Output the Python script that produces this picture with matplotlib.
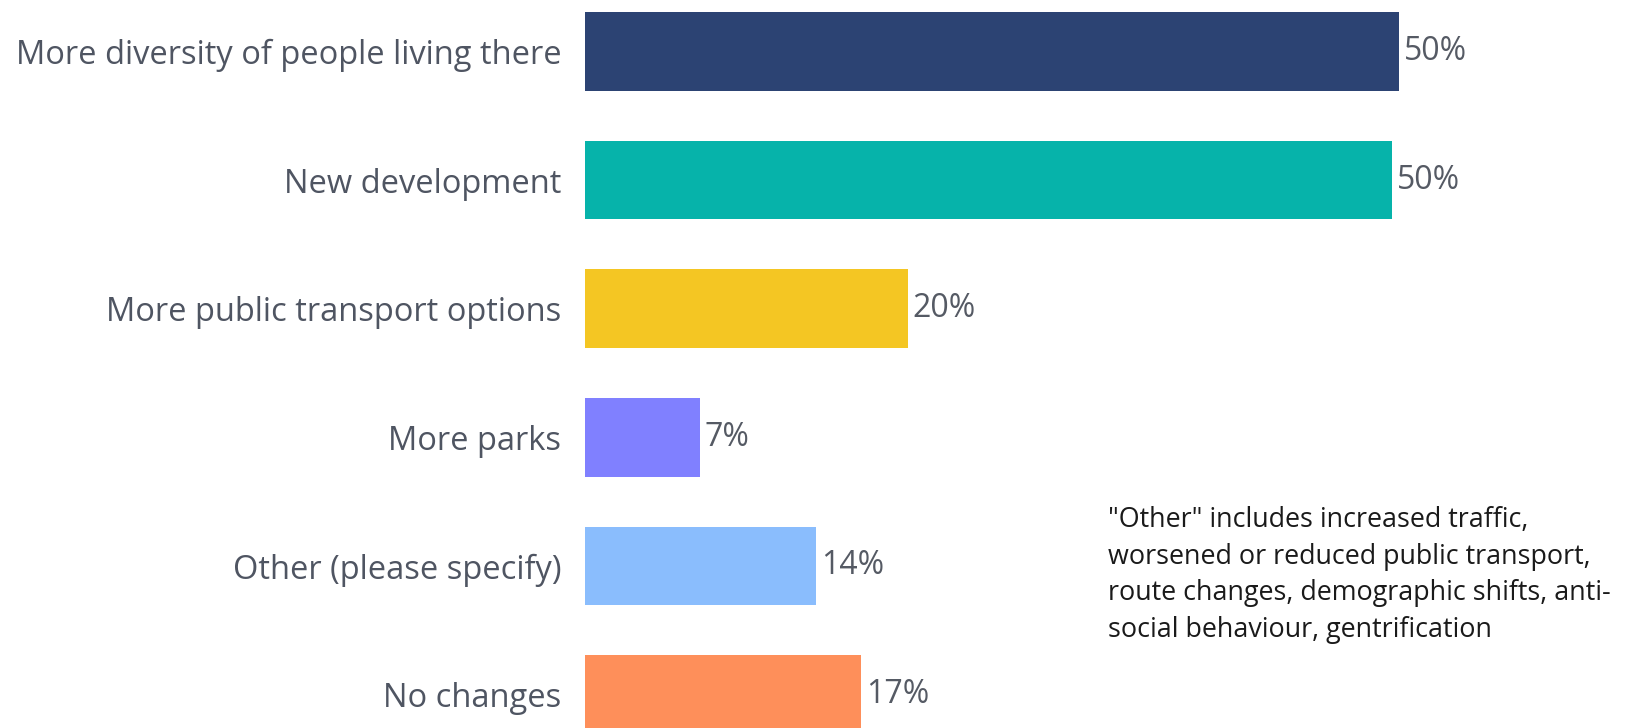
import numpy as np
from matplotlib import pyplot as plt

# categories and values
categories = [
    'More diversity of people living there',
    'New development',
    'More public transport options',
    'More parks',
    'Other (please specify)',
    'No changes',
]
values = [50.4, 50.0, 20.0, 7.1, 14.3, 17.1]
value_labels = ['50%', '50%', '20%', '7%', '14%', '17%']
colors = ['#2c4373', '#06b3aa', '#f4c623', '#8080ff', '#8abdfd', '#fe8f5a']

note = ('"Other" includes increased traffic,\n'
        'worsened or reduced public transport,\n'
        'route changes, demographic shifts, anti-\n'
        'social behaviour, gentrification')

plt.rcParams['font.family'] = ['Open Sans', 'DejaVu Sans']

fig = plt.figure(figsize=(16.46, 7.28), dpi=100)
ax = fig.add_axes([585 / 1646, 0, 1 - 585 / 1646, 1])

y = np.arange(len(categories))
ax.barh(y, values, height=0.61, color=colors)

for yi, v, lab in zip(y, values, value_labels):
    ax.text(v + 0.3, yi, lab, va='center', ha='left', fontsize=23, color='#555a64')

ax.set_yticks(y)
ax.set_yticklabels(categories, fontsize=23.5, color='#4f5562')
ax.tick_params(axis='y', length=0, pad=17)
ax.set_xticks([])
ax.set_xlim(0, 65.7)
ax.set_ylim(5.26, -0.40)
for s in ax.spines.values():
    s.set_visible(False)

fig.text(1108 / 1646, 1 - 506 / 728, note, ha='left', va='top', fontsize=19.4,
         color='#1a1a1a', linespacing=1.41)

fig.savefig('out.png', dpi=100)
